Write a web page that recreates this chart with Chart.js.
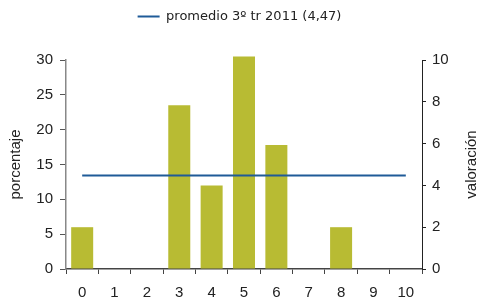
<!DOCTYPE html>
<html>
<head>
<meta charset="utf-8">
<script src="https://cdn.jsdelivr.net/npm/chart.js@4"></script>
<style>
    html, body { margin: 0; padding: 0; background: #fff; }
    #wrap { width: 479px; height: 303px; }
</style>
</head>
<body>
<div id="wrap"><canvas id="chart-barras"></canvas></div>
<script>
// datos
const categorias = ["0", "1", "2", "3", "4", "5", "6", "7", "8", "9", "10"];
const porcentajes = [6, 0, 0, 23.5, 12, 30.5, 17.8, 0, 6, 0, 0];
const promedio = 4.47;
const promedioLabel = "promedio 3º tr 2011 (4,47)";
const ticksIzq = [0, 5, 10, 15, 20, 25, 30];
const ticksDer = [0, 2, 4, 6, 8, 10];

const fuente = "'Liberation Sans', Arial, sans-serif";

// espacio extra bajo la leyenda
const espacioLeyenda = {
    id: "espacioLeyenda",
    beforeInit(chart) {
        const fitOriginal = chart.legend.fit;
        chart.legend.fit = function () {
            fitOriginal.bind(chart.legend)();
            this.height += 27;
        };
    },
};

// titulos de los ejes, leidos de abajo hacia arriba
const titulosEjes = {
    id: "titulosEjes",
    afterDraw(chart) {
        const ctx = chart.ctx;
        const area = chart.chartArea;
        const cy = (area.top + area.bottom) / 2;
        [["porcentaje", 16], ["valoración", 472]].forEach(([texto, x]) => {
            ctx.save();
            ctx.fillStyle = "#222";
            ctx.font = "15px " + fuente;
            ctx.textAlign = "center";
            ctx.textBaseline = "middle";
            ctx.translate(x, cy);
            ctx.rotate(-Math.PI / 2);
            ctx.fillText(texto, 0, 0);
            ctx.restore();
        });
    },
};

const ctx = document.getElementById("chart-barras").getContext("2d");
new Chart(ctx, {
    type: "bar",
    data: {
        labels: categorias,
        datasets: [
            {
                type: "line",
                label: promedioLabel,
                data: categorias.map(() => promedio),
                yAxisID: "y1",
                borderColor: "#1f5b98",
                backgroundColor: "#1f5b98",
                borderWidth: 2,
                pointRadius: 0,
                order: 0,
            },
            {
                label: "porcentaje",
                data: porcentajes,
                yAxisID: "y",
                backgroundColor: "#b8bb33",
                borderWidth: 0,
                barPercentage: 0.68,
                categoryPercentage: 1,
                clip: false,
                order: 1,
            },
        ],
    },
    options: {
        responsive: true,
        maintainAspectRatio: false,
        animation: false,
        layout: { padding: { top: 0, left: 0, right: 0, bottom: 0 } },
        plugins: {
            legend: {
                display: true,
                position: "top",
                labels: {
                    filter: (item) => item.datasetIndex === 0,
                    usePointStyle: true,
                    pointStyle: "line",
                    pointStyleWidth: 22,
                    boxHeight: 2,
                    color: "#222",
                    font: { family: "'DejaVu Sans', sans-serif", size: 13 },
                    padding: 10,
                },
            },
            tooltip: { enabled: false },
        },
        scales: {
            x: {
                grid: {
                    offset: true,
                    drawOnChartArea: false,
                    drawTicks: true,
                    tickLength: 5,
                    color: "#444",
                },
                border: { color: "#444", width: 1.5 },
                ticks: {
                    color: "#222",
                    font: { family: fuente, size: 15 },
                    padding: 10,
                    maxRotation: 0,
                },
                afterFit: (scale) => { scale.height = 34; },
            },
            y: {
                position: "left",
                min: 0,
                max: 30,
                afterBuildTicks: (scale) => {
                    scale.ticks = ticksIzq.map((v) => ({ value: v }));
                },
                grid: {
                    drawOnChartArea: false,
                    tickLength: 6,
                    color: "#555",
                },
                border: { color: "#888", width: 1.5 },
                ticks: {
                    color: "#222",
                    font: { family: fuente, size: 15 },
                    padding: 7,
                },
                afterFit: (scale) => { scale.width = 66; },
            },
            y1: {
                position: "right",
                min: 0,
                max: 10,
                afterBuildTicks: (scale) => {
                    scale.ticks = ticksDer.map((v) => ({ value: v }));
                },
                grid: {
                    drawOnChartArea: false,
                    tickLength: 4,
                    color: "#222",
                },
                border: { color: "#222", width: 1 },
                ticks: {
                    color: "#222",
                    font: { family: fuente, size: 15 },
                    padding: 6,
                },
                afterFit: (scale) => { scale.width = 57; },
            },
        },
    },
    plugins: [titulosEjes, espacioLeyenda],
});
</script>
</body>
</html>
